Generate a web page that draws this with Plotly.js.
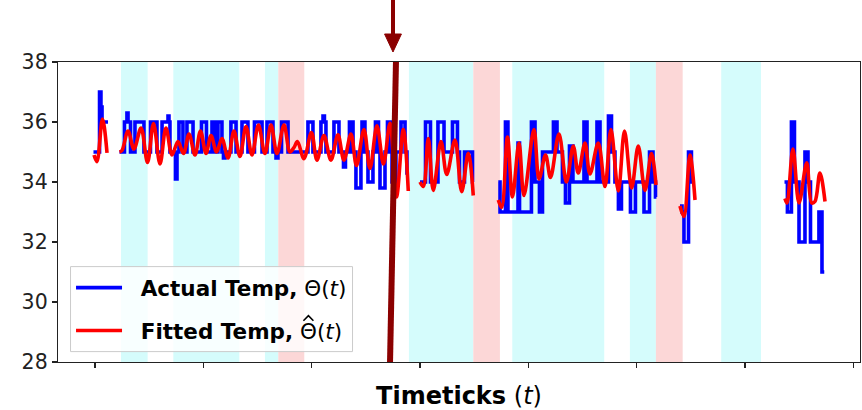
<!DOCTYPE html>
<html>
<head>
<meta charset="utf-8">
<script src="https://cdn.plot.ly/plotly-3.0.1.min.js"></script>
<style>html,body{margin:0;padding:0;background:#fff}#chart{width:862px;height:410px}</style>
</head>
<body>
<div id="chart"></div>
<script>
// ---- data (timeticks, temperature) ----
const actualTimeA = [-1.4, 4.2, 5.5, 6.5, 12.0];
const actualTempA = [35, 37, 36.5, 36, 36];
const fittedTimeA = [-0.9, 1.8, 6.9, 11.1];
const fittedTempA = [34.9, 34.68, 36.1, 34.97];

const actualTimeB = [22.6, 27.2, 29.5, 30.5, 32.8, 36.9, 45.2, 51.2, 57.2, 61.9, 67.4, 68.3, 69.2, 74.3, 75.7, 77.5, 81.2, 84.9, 90.5, 98.3, 102.9, 108.0, 110.8, 113.5, 117.2, 118.6, 120.0, 125.5, 130.2, 135.7, 141.2, 147.2, 154.2, 158.8, 164.3, 167.1, 168.9, 172.2, 178.2, 196.6, 201.2, 208.6, 210.5, 211.8, 213.2, 220.6, 225.2, 229.4, 231.2, 234.9, 238.2, 240.9, 245.5, 246.5, 249.2, 252.0, 256.6, 258.9, 261.7, 263.1, 267.7, 270.0, 273.2, 274.2, 277.8, 282.5, 286.2, 288.0, 289.4];
const actualTempB = [35, 36, 36.3, 36, 35, 36, 35, 36, 35, 36, 36.2, 36, 35, 34.1, 35, 36, 35, 36, 35, 36, 35, 36, 35, 36, 35, 34.8, 35, 36, 35, 36, 35, 36, 35, 36, 35, 34.8, 35, 36, 35, 36, 35, 36, 36.2, 36, 35, 36, 35, 34.5, 35, 36, 35, 33.8, 35, 36, 35, 34, 35, 36, 35, 33.8, 35, 36, 35, 34, 35, 36, 35, 34.3, 34.3];
const fittedTimeB = [22.6, 24.9, 30.5, 36.0, 42.5, 48.5, 54.0, 60.0, 65.5, 71.1, 76.6, 81.7, 86.8, 92.3, 97.4, 102.5, 107.1, 112.2, 117.2, 122.8, 128.3, 133.8, 139.4, 144.9, 150.9, 156.9, 162.5, 168.0, 174.5, 180.0, 183.7, 186.9, 192.9, 199.8, 204.9, 211.4, 217.8, 224.3, 229.8, 236.3, 241.4, 248.3, 253.8, 260.3, 266.3, 272.3, 278.3, 284.6, 289.2];
const fittedTempB = [35.0, 35.05, 35.7, 35.1, 35.8, 34.65, 35.95, 34.6, 35.8, 34.9, 35.35, 34.95, 35.6, 34.9, 35.7, 34.95, 35.55, 35.0, 35.45, 34.8, 35.7, 34.85, 35.85, 34.9, 35.9, 34.95, 35.9, 34.95, 35.9, 35.0, 35.15, 35.35, 34.78, 35.65, 34.73, 35.55, 34.73, 35.57, 34.73, 35.6, 34.55, 35.75, 34.45, 35.87, 34.6, 35.96, 33.5, 35.75, 33.7];

const actualTimeC = [300.0, 305.1, 309.7, 316.6, 322.2, 330.0, 334.6, 336.5, 341.1, 348.5, 349.4];
const actualTempC = [34, 36, 34, 36, 35, 36, 35, 34, 35, 34, 34];
const fittedTimeC = [300.0, 303.1, 307.7, 312.3, 319.4, 324.7, 332.3, 338.5, 344.6, 349.2];
const fittedTempC = [34.0, 33.85, 35.45, 33.72, 35.35, 34.25, 35.4, 33.68, 34.96, 33.55];

const actualTimeD = [372.3, 373.9, 378.9, 381.2, 390.5, 391.9, 402.9, 406.2, 410.3, 413.1, 423.2, 426.5, 431.5, 434.3, 438.0, 441.2, 451.4, 454.2, 463.4, 466.2, 474.0, 476.8, 480.0, 483.2, 486.0, 494.3, 498.9, 506.8, 511.9, 515.1, 517.4, 518.3];
const actualTempD = [34, 33, 36, 33, 35.3, 33, 36, 34, 33, 35, 36, 35, 34, 33.3, 35.2, 34, 36, 34, 36, 34, 36.2, 35, 34, 33.1, 34, 33, 34, 33, 35, 34, 33.5, 33.5];
const fittedTimeD = [372.3, 375.4, 380.8, 385.4, 391.4, 396.0, 405.2, 409.9, 415.9, 420.5, 428.3, 435.2, 441.5, 446.1, 452.3, 456.9, 464.6, 470.8, 476.3, 483.1, 488.8, 495.4, 501.5, 507.7, 513.7, 517.9];
const fittedTempD = [33.4, 33.15, 35.5, 33.5, 35.3, 33.55, 35.75, 34.1, 34.9, 34.15, 35.6, 34.0, 35.2, 34.3, 35.3, 34.27, 35.3, 33.85, 35.75, 33.7, 35.7, 33.8, 35.2, 33.72, 34.95, 33.9];

const actualTimeE = [540.0, 541.9, 543.7, 547.9, 550.6, 553.9];
const actualTempE = [33.2, 33, 32, 35, 34, 34];
const fittedTimeE = [540.0, 543.7, 549.2, 553.9];
const fittedTempE = [33.2, 32.85, 34.9, 33.4];

const actualTimeF = [636.5, 639.2, 642.9, 645.7, 649.9, 655.4, 658.2, 660.5, 668.3, 671.1, 673.2];
const actualTempF = [34, 33, 36, 34, 32, 35, 34, 32, 33, 31, 31];
const fittedTimeF = [636.9, 638.8, 644.3, 649.9, 657.0, 661.6, 664.6, 669.2, 673.9];
const fittedTempF = [33.45, 33.3, 35.1, 33.3, 34.64, 33.3, 33.35, 34.3, 33.35];

// shaded periods (timeticks)
const cyanStart = [24.0, 72.3, 156.9, 289.8, 385.2, 493.8, 578.1];
const cyanEnd   = [48.6, 133.2, 169.2, 349.2, 470.1, 517.8, 614.8];
const pinkStart = [169.2, 349.2, 517.8];
const pinkEnd   = [193.2, 373.8, 542.5];

const xTickVals = [0, 100, 200, 300, 400, 500, 600, 700];
const yTickVals = [28, 30, 32, 34, 36, 38];

// ---- build traces ----
function joinSegments(ts, vs) {
  const x = [], y = [];
  ts.forEach((t, i) => {
    if (i > 0) { x.push(null); y.push(null); }
    x.push(...t); y.push(...vs[i]);
  });
  return {x, y};
}
const actual = joinSegments(
  [actualTimeA, actualTimeB, actualTimeC, actualTimeD, actualTimeE, actualTimeF],
  [actualTempA, actualTempB, actualTempC, actualTempD, actualTempE, actualTempF]);
const fittedParts = [
  [fittedTimeA, fittedTempA], [fittedTimeB, fittedTempB], [fittedTimeC, fittedTempC],
  [fittedTimeD, fittedTempD], [fittedTimeE, fittedTempE], [fittedTimeF, fittedTempF]];

const PAD = '\u00a0\u00a0';
const traces = [{
  x: actual.x, y: actual.y, type: 'scatter', mode: 'lines',
  name: PAD + '<b>Actual Temp,</b> Θ(<i>t</i>)',
  line: {color: '#0000ff', width: 3.6, shape: 'hv'},
  connectgaps: false, legendgroup: 'a', hoverinfo: 'skip'
}];
fittedParts.forEach((p, i) => {
  traces.push({
    x: p[0], y: p[1], type: 'scatter', mode: 'lines',
    name: PAD + '<b>Fitted Temp,</b> Θ(<i>t</i>)',
    line: {color: '#ff0000', width: 3.6, shape: 'spline', smoothing: 1},
    legendgroup: 'f', showlegend: i === 0, hoverinfo: 'skip'
  });
});

const shapes = [];
cyanStart.forEach((s, i) => shapes.push({
  type: 'rect', xref: 'x', yref: 'paper', x0: s, x1: cyanEnd[i], y0: 0, y1: 1,
  fillcolor: 'rgb(213,252,252)', line: {width: 0}, layer: 'below'}));
pinkStart.forEach((s, i) => shapes.push({
  type: 'rect', xref: 'x', yref: 'paper', x0: s, x1: pinkEnd[i], y0: 0, y1: 1,
  fillcolor: 'rgb(252,215,215)', line: {width: 0}, layer: 'below'}));
// dark red marker line and arrow
shapes.push({type: 'line', xref: 'paper', yref: 'paper', x0: 0.4214, y0: 1, x1: 0.414, y1: 0,
  line: {color: '#8b0000', width: 6}, layer: 'above'});
shapes.push({type: 'line', xref: 'paper', yref: 'paper', x0: 0.4177, y0: 1.21, x1: 0.4177, y1: 1.08,
  line: {color: '#8b0000', width: 4}, layer: 'above'});
shapes.push({type: 'path', xref: 'paper', yref: 'paper',
  path: 'M 0.4072 1.0933 L 0.4282 1.0933 L 0.4177 1.0333 Z',
  fillcolor: '#8b0000', line: {color: '#8b0000', width: 1}, layer: 'above'});

const LEGEND_FONT = 21.5;
const layout = {
  width: 862, height: 410,
  margin: {l: 58, r: 2, t: 62, b: 48},
  paper_bgcolor: '#ffffff', plot_bgcolor: '#ffffff',
  font: {family: 'DejaVu Sans', color: '#1a1a1a'},
  showlegend: true,
  legend: {
    x: 0.015, y: 0.033, xanchor: 'left', yanchor: 'bottom',
    bgcolor: 'rgba(0,0,0,0)', bordercolor: 'rgba(0,0,0,0)', borderwidth: 1,
    font: {family: 'DejaVu Sans', size: LEGEND_FONT, color: '#000'},
    tracegroupgap: 12, itemwidth: 46
  },
  xaxis: {
    range: [-34.15, 706.2], tickvals: xTickVals, showticklabels: false,
    ticks: 'outside', ticklen: 5, tickwidth: 1.2, tickcolor: '#222',
    showgrid: false, zeroline: false, showline: true, mirror: true,
    linecolor: '#222', linewidth: 1.2,
    title: {text: '<b>Timeticks</b> (<i>t</i>)', font: {size: 24, color: '#000'}, standoff: 20}
  },
  yaxis: {
    range: [28, 38], tickvals: yTickVals,
    ticks: 'outside', ticklen: 5, tickwidth: 1.2, tickcolor: '#222',
    tickfont: {size: 20.5, color: '#222'},
    showgrid: false, zeroline: false, showline: true, mirror: true,
    linecolor: '#222', linewidth: 1.2
  },
  shapes: shapes
};

Plotly.newPlot('chart', traces, layout, {staticPlot: true, displayModeBar: false}).then(gd => {
  const svg = gd.querySelector('.main-svg');
  const box = svg.getBoundingClientRect();
  const sz = gd._fullLayout._size;
  const X = v => ((v - sz.l) / sz.w).toFixed(5);
  const Y = v => ((sz.t + sz.h - v) / sz.h).toFixed(5);
  const extra = [];
  // translucent legend frame, drawn as a shape so the accent can sit on top of it
  const bg = gd.querySelector('.legend .bg');
  if (bg) {
    const r = bg.getBoundingClientRect();
    const x0 = r.left - box.left, x1 = r.right - box.left;
    const y0 = r.top - box.top, y1 = r.bottom - box.top;
    extra.push({type: 'rect', xref: 'paper', yref: 'paper',
      x0: X(x0), x1: X(x1), y0: Y(y1), y1: Y(y0),
      fillcolor: 'rgba(255,255,255,0.82)', line: {color: '#cccccc', width: 1}, layer: 'above'});
  }
  // hat accent over the Θ of the fitted-temperature entry
  const texts = gd.querySelectorAll('.legend .legendtext');
  if (texts.length >= 2) {
    const t = texts[1];
    const idx = t.textContent.indexOf('Θ');
    if (idx >= 0) {
      const ext = t.getExtentOfChar(idx);
      const base = t.getStartPositionOfChar(idx);
      const p = svg.createSVGPoint();
      p.x = ext.x + ext.width / 2; p.y = base.y;
      const sp = p.matrixTransform(t.getScreenCTM());
      const cx = sp.x - box.left;
      const capTop = sp.y - box.top - 0.73 * LEGEND_FONT;
      extra.push({type: 'path', xref: 'paper', yref: 'paper',
        path: 'M ' + X(cx - 5) + ' ' + Y(capTop - 2.5) + ' L ' + X(cx) + ' ' + Y(capTop - 7.5) +
              ' L ' + X(cx + 5) + ' ' + Y(capTop - 2.5),
        line: {color: '#000', width: 1.6}, layer: 'above'});
    }
  }
  Plotly.relayout(gd, {shapes: gd.layout.shapes.concat(extra)});
});
</script>
</body>
</html>
